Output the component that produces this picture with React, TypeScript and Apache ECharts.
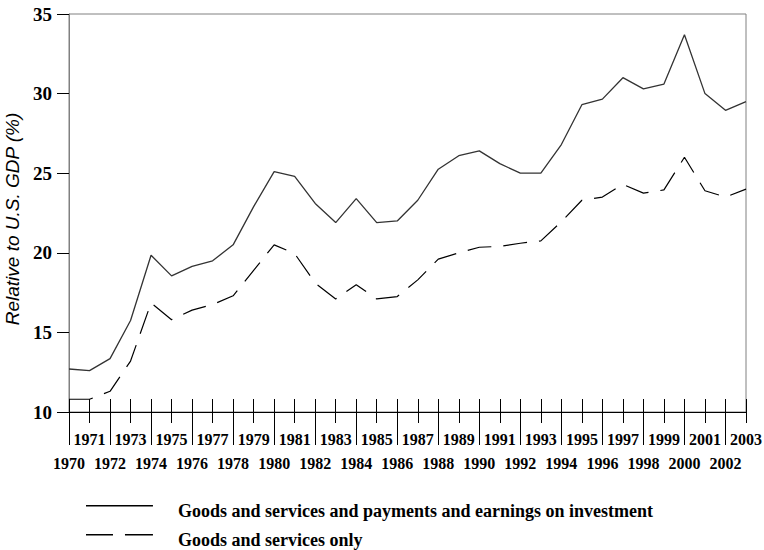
import React, { useEffect, useRef } from "react";
import * as echarts from "echarts";

const years = [
  "1970", "1971", "1972", "1973", "1974", "1975", "1976", "1977", "1978", "1979",
  "1980", "1981", "1982", "1983", "1984", "1985", "1986", "1987", "1988", "1989",
  "1990", "1991", "1992", "1993", "1994", "1995", "1996", "1997", "1998", "1999",
  "2000", "2001", "2002", "2003",
];

const goodsServicesAndIncome = [
  12.7, 12.6, 13.35, 15.75, 19.85, 18.55, 19.15, 19.5, 20.5, 22.9,
  25.1, 24.8, 23.1, 21.9, 23.4, 21.9, 22.0, 23.3, 25.25, 26.1,
  26.4, 25.6, 25.0, 25.0, 26.8, 29.3, 29.65, 31.0, 30.3, 30.6,
  33.7, 30.0, 28.95, 29.5,
];

const goodsServicesOnly = [
  10.8, 10.8, 11.3, 13.2, 16.85, 15.8, 16.4, 16.75, 17.3, 18.9,
  20.5, 19.95, 18.1, 17.1, 18.0, 17.1, 17.25, 18.3, 19.6, 20.0,
  20.35, 20.4, 20.6, 20.75, 21.95, 23.3, 23.5, 24.3, 23.75, 23.95,
  26.0, 23.9, 23.5, 24.0,
];

const seriesNames = [
  "Goods and services and payments and earnings on investment",
  "Goods and services only",
];

const yAxisName = "Relative to U.S. GDP (%)";

const serif = "'Liberation Serif', 'Times New Roman', serif";
const sans = "'Liberation Sans', Arial, sans-serif";

// line drawn in the upper part of the legend icon box (the tiny segment at the bottom only sets the box)
const solidIcon = "path://M0,0H67V1.4H0Z M0,12L0.01,12L0.01,12.01Z";
const dashedIcon = "path://M0,0H27V1.4H0Z M39,0H67V1.4H39Z M0,12L0.01,12L0.01,12.01Z";

export default function App() {
  const ref = useRef<HTMLDivElement>(null);

  useEffect(() => {
    if (!ref.current) return;
    const chart = echarts.init(ref.current, null, { renderer: "svg" });
    const baseX = {
      type: "category" as const,
      data: years,
      boundaryGap: false,
      position: "bottom" as const,
      gridIndex: 0,
    };
    const legendText = {
      fontFamily: serif,
      fontWeight: "bold" as const,
      fontSize: 18,
      lineHeight: 14,
      color: "#000",
      padding: [0, 0, 0, 20],
    };
    chart.setOption({
      animation: false,
      backgroundColor: "#ffffff",
      grid: {
        left: 69,
        right: 18,
        top: 14,
        bottom: 138,
        containLabel: false,
        outerBoundsMode: "none",
        show: true,
        borderColor: "#808080",
        borderWidth: 1,
        backgroundColor: "transparent",
      },
      legend: [
        {
          left: 81,
          top: 497,
          itemWidth: 67,
          itemHeight: 12,
          selectedMode: false,
          textStyle: legendText,
          data: [{ name: seriesNames[0], icon: solidIcon, itemStyle: { color: "#000" } }],
        },
        {
          left: 81,
          top: 526,
          itemWidth: 67,
          itemHeight: 12,
          selectedMode: false,
          textStyle: legendText,
          data: [{ name: seriesNames[1], icon: dashedIcon, itemStyle: { color: "#000" } }],
        },
      ],
      xAxis: [
        {
          ...baseX,
          axisLine: { show: true, lineStyle: { color: "#000", width: 1 } },
          axisTick: { show: true, inside: false, length: 11, interval: 0, lineStyle: { color: "#000" } },
          axisLabel: {
            show: true,
            interval: (idx: number) => idx % 2 === 1,
            margin: 19,
            fontFamily: serif,
            fontWeight: "bold",
            fontSize: 16,
            color: "#000",
          },
          splitLine: { show: false },
        },
        {
          ...baseX,
          axisLine: { show: false },
          axisTick: { show: true, inside: true, length: 13, interval: 0, lineStyle: { color: "#000" } },
          axisLabel: { show: false },
          splitLine: { show: false },
        },
        {
          ...baseX,
          axisLine: { show: false },
          axisTick: {
            show: true,
            inside: false,
            length: 33,
            interval: (idx: number) => idx % 2 === 0,
            lineStyle: { color: "#000" },
          },
          axisLabel: {
            show: true,
            interval: (idx: number) => idx % 2 === 0,
            margin: 43,
            fontFamily: serif,
            fontWeight: "bold",
            fontSize: 16,
            color: "#000",
          },
          splitLine: { show: false },
        },
      ],
      yAxis: {
        type: "value",
        min: 10,
        max: 35,
        interval: 5,
        name: yAxisName,
        nameLocation: "middle",
        nameRotate: 90,
        nameGap: 37,
        nameTextStyle: {
          fontFamily: sans,
          fontStyle: "italic",
          fontSize: 19,
          color: "#000",
          padding: [0, 12, 0, 0],
        },
        axisLine: { show: true, lineStyle: { color: "#808080", width: 1 } },
        axisTick: { show: true, inside: false, length: 12, lineStyle: { color: "#000" } },
        axisLabel: {
          margin: 17,
          fontFamily: serif,
          fontWeight: "bold",
          fontSize: 19,
          color: "#000",
        },
        splitLine: { show: false },
      },
      series: [
        {
          name: seriesNames[0],
          type: "line",
          xAxisIndex: 0,
          data: goodsServicesAndIncome,
          symbol: "none",
          lineStyle: { color: "#333333", width: 1.3, type: "solid" },
          itemStyle: { color: "#333333" },
        },
        {
          name: seriesNames[1],
          type: "line",
          xAxisIndex: 0,
          data: goodsServicesOnly,
          symbol: "none",
          lineStyle: { color: "#000000", width: 1.2, type: [24, 12] },
          itemStyle: { color: "#000000" },
        },
      ],
    });
    return () => chart.dispose();
  }, []);

  return (
    <div
      ref={ref}
      style={{ position: "fixed", left: 0, top: 0, width: 764, height: 550, background: "#fff" }}
    />
  );
}
